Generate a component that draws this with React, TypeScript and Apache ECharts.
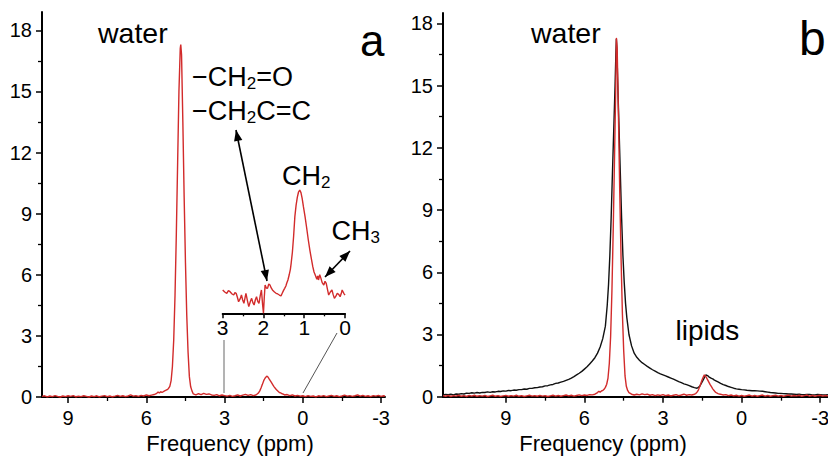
import React, { useEffect, useRef } from 'react';
import * as echarts from 'echarts';

const FONT = '"Liberation Sans", Arial, Helvetica, sans-serif';
const RED = '#d22b2b';
const BLACK = '#111111';

// tick values
const xMajorTicks = [9, 6, 3, 0, -3];
const xMinorTicks = [7.5, 4.5, 1.5, -1.5];
const yMajorTicks = [0, 3, 6, 9, 12, 15, 18];
const yMinorTicks = [1.5, 4.5, 7.5, 10.5, 13.5, 16.5];
const insetMajorTicks = [3, 2, 1, 0];
const insetMinorTicks = [2.5, 1.5, 0.5];

// panel a: red spectrum [ppm, intensity]
const spectrumA: [number, number][] = [
  [10.0, 0.03], [9.9, 0.06], [9.8, 0.01], [9.7, 0.05], [9.6, 0.02], [9.5, 0.07], [9.4, 0.03], [9.3, 0.0],
  [9.2, 0.05], [9.1, 0.02], [9.0, 0.06], [8.9, 0.03], [8.8, 0.07], [8.7, 0.01], [8.6, 0.04], [8.5, 0.02],
  [8.4, 0.06], [8.3, 0.03], [8.2, 0.0], [8.1, 0.05], [8.0, 0.02], [7.9, 0.06], [7.8, 0.01], [7.7, 0.04],
  [7.6, 0.07], [7.5, 0.02], [7.4, 0.05], [7.3, 0.01], [7.2, 0.04], [7.1, 0.08], [7.0, 0.03], [6.9, 0.06],
  [6.8, 0.02], [6.7, 0.05], [6.6, 0.1], [6.5, 0.04], [6.4, 0.07], [6.3, 0.03], [6.2, 0.08], [6.1, 0.05],
  [6.0, 0.1], [5.9, 0.06], [5.8, 0.09], [5.7, 0.12], [5.6, 0.18], [5.55, 0.24], [5.5, 0.2], [5.45, 0.26],
  [5.4, 0.22], [5.3, 0.3], [5.2, 0.36], [5.15, 0.42], [5.1, 0.52], [5.05, 0.8], [5.0, 1.5], [4.95, 2.8],
  [4.9, 5.0], [4.85, 8.0], [4.8, 11.5], [4.75, 15.0], [4.7, 17.1], [4.68, 17.3], [4.65, 16.8], [4.6, 13.5],
  [4.55, 9.8], [4.5, 6.6], [4.45, 4.0], [4.4, 2.2], [4.35, 1.0], [4.3, 0.5], [4.25, 0.3], [4.2, 0.15],
  [4.1, 0.1], [4.0, 0.16], [3.9, 0.12], [3.8, 0.18], [3.7, 0.13], [3.6, 0.15], [3.5, 0.1], [3.4, 0.08],
  [3.3, 0.12], [3.2, 0.06], [3.1, 0.1], [3.0, 0.07], [2.9, 0.04], [2.8, 0.08], [2.7, 0.03], [2.6, 0.06],
  [2.5, 0.1], [2.4, 0.05], [2.3, 0.09], [2.2, 0.13], [2.1, 0.08], [2.0, 0.12], [1.9, 0.07], [1.8, 0.1],
  [1.75, 0.15], [1.7, 0.2], [1.65, 0.3], [1.6, 0.45], [1.55, 0.62], [1.5, 0.8], [1.45, 0.92], [1.4, 1.0],
  [1.37, 1.02], [1.33, 0.97], [1.3, 0.9], [1.25, 0.8], [1.2, 0.7], [1.15, 0.6], [1.1, 0.5], [1.05, 0.42],
  [1.0, 0.34], [0.95, 0.28], [0.9, 0.22], [0.85, 0.2], [0.8, 0.16], [0.75, 0.14], [0.7, 0.1], [0.6, 0.12],
  [0.5, 0.07], [0.4, 0.1], [0.3, 0.05], [0.2, 0.08], [0.1, 0.04], [0.0, 0.06], [-0.1, 0.02], [-0.2, 0.07],
  [-0.3, 0.03], [-0.4, 0.05], [-0.5, 0.01], [-0.6, 0.06], [-0.7, 0.03], [-0.8, 0.07], [-0.9, 0.02], [-1.0, 0.05],
  [-1.1, 0.08], [-1.2, 0.03], [-1.3, 0.06], [-1.4, 0.02], [-1.5, 0.05], [-1.6, 0.09], [-1.7, 0.04], [-1.8, 0.07],
  [-1.9, 0.03], [-2.0, 0.06], [-2.1, 0.1], [-2.2, 0.04], [-2.3, 0.08], [-2.4, 0.03], [-2.5, 0.06], [-2.6, 0.02],
  [-2.7, 0.07], [-2.8, 0.04], [-2.9, 0.08], [-3.0, 0.03], [-3.1, 0.06], [-3.15, 0.04],
];

// panel b: black (broad) spectrum
const spectrumBBlack: [number, number][] = [
  [11.4, 0.08], [11.3, 0.11], [11.2, 0.1], [11.1, 0.12], [11.0, 0.09], [10.9, 0.13], [10.8, 0.12], [10.7, 0.15],
  [10.6, 0.13], [10.5, 0.17], [10.4, 0.16], [10.3, 0.19], [10.2, 0.17], [10.1, 0.2], [10.0, 0.18], [9.9, 0.21],
  [9.8, 0.2], [9.7, 0.23], [9.6, 0.21], [9.5, 0.24], [9.4, 0.23], [9.3, 0.26], [9.2, 0.25], [9.1, 0.28],
  [9.0, 0.27], [8.9, 0.3], [8.8, 0.29], [8.7, 0.32], [8.6, 0.31], [8.5, 0.34], [8.4, 0.34], [8.3, 0.37],
  [8.2, 0.36], [8.1, 0.4], [8.0, 0.4], [7.9, 0.43], [7.8, 0.44], [7.7, 0.47], [7.6, 0.48], [7.5, 0.52],
  [7.4, 0.53], [7.3, 0.57], [7.2, 0.59], [7.1, 0.64], [7.0, 0.66], [6.9, 0.7], [6.8, 0.74], [6.7, 0.79],
  [6.6, 0.84], [6.5, 0.9], [6.4, 0.97], [6.3, 1.05], [6.2, 1.13], [6.1, 1.22], [6.0, 1.33], [5.9, 1.44],
  [5.8, 1.58], [5.7, 1.72], [5.6, 1.88], [5.5, 2.1], [5.4, 2.4], [5.3, 2.8], [5.2, 3.4], [5.13, 4.4],
  [5.08, 5.4], [5.03, 6.8], [4.98, 8.6], [4.93, 10.8], [4.88, 12.9], [4.83, 15.0], [4.8, 16.5], [4.78, 17.25],
  [4.76, 16.7], [4.73, 15.2], [4.68, 13.0], [4.63, 10.8], [4.58, 8.6], [4.53, 6.8], [4.48, 5.5], [4.43, 4.5],
  [4.38, 3.8], [4.3, 3.0], [4.2, 2.45], [4.1, 2.1], [4.0, 1.9], [3.9, 1.76], [3.8, 1.64], [3.7, 1.55],
  [3.6, 1.46], [3.5, 1.38], [3.4, 1.3], [3.3, 1.23], [3.2, 1.16], [3.1, 1.1], [3.0, 1.05], [2.9, 1.0],
  [2.8, 0.95], [2.7, 0.9], [2.6, 0.85], [2.5, 0.79], [2.4, 0.73], [2.3, 0.68], [2.2, 0.62], [2.1, 0.58],
  [2.0, 0.53], [1.9, 0.48], [1.8, 0.44], [1.7, 0.41], [1.6, 0.5], [1.5, 0.72], [1.42, 0.92], [1.36, 1.05],
  [1.3, 1.02], [1.25, 0.96], [1.2, 0.92], [1.15, 0.88], [1.1, 0.86], [1.05, 0.81], [1.0, 0.78], [0.9, 0.71],
  [0.8, 0.64], [0.7, 0.58], [0.6, 0.54], [0.5, 0.49], [0.4, 0.45], [0.3, 0.41], [0.2, 0.38], [0.1, 0.36],
  [0.0, 0.34], [-0.1, 0.33], [-0.2, 0.31], [-0.3, 0.3], [-0.4, 0.29], [-0.5, 0.29], [-0.6, 0.28], [-0.7, 0.27],
  [-0.8, 0.26], [-0.9, 0.24], [-1.0, 0.22], [-1.1, 0.2], [-1.2, 0.19], [-1.3, 0.18], [-1.4, 0.16], [-1.5, 0.16],
  [-1.6, 0.15], [-1.7, 0.14], [-1.8, 0.13], [-1.9, 0.13], [-2.0, 0.12], [-2.1, 0.11], [-2.2, 0.12], [-2.3, 0.1],
  [-2.4, 0.1], [-2.5, 0.11], [-2.6, 0.11], [-2.7, 0.09], [-2.8, 0.09], [-2.9, 0.11], [-3.0, 0.1], [-3.1, 0.09],
  [-3.2, 0.09], [-3.3, 0.1],
];

// panel b: red (narrow) spectrum
const spectrumBRed: [number, number][] = [
  [11.4, 0.05], [11.3, 0.02], [11.2, 0.06], [11.1, 0.01], [11.0, 0.05], [10.9, 0.03], [10.8, 0.07], [10.7, 0.02],
  [10.6, 0.05], [10.5, 0.01], [10.4, 0.06], [10.3, 0.03], [10.2, 0.07], [10.1, 0.02], [10.0, 0.05], [9.9, 0.03],
  [9.8, 0.06], [9.7, 0.01], [9.6, 0.04], [9.5, 0.07], [9.4, 0.02], [9.3, 0.05], [9.2, 0.01], [9.1, 0.04],
  [9.0, 0.06], [8.9, 0.02], [8.8, 0.05], [8.7, 0.03], [8.6, 0.07], [8.5, 0.02], [8.4, 0.05], [8.3, 0.01],
  [8.2, 0.04], [8.1, 0.07], [8.0, 0.03], [7.9, 0.05], [7.8, 0.02], [7.7, 0.06], [7.6, 0.03], [7.5, 0.05],
  [7.4, 0.01], [7.3, 0.04], [7.2, 0.07], [7.1, 0.03], [7.0, 0.06], [6.9, 0.02], [6.8, 0.05], [6.7, 0.08],
  [6.6, 0.04], [6.5, 0.07], [6.4, 0.03], [6.3, 0.06], [6.2, 0.09], [6.1, 0.05], [6.0, 0.08], [5.9, 0.06],
  [5.8, 0.1], [5.7, 0.09], [5.6, 0.12], [5.5, 0.2], [5.45, 0.26], [5.4, 0.22], [5.35, 0.28], [5.3, 0.3],
  [5.25, 0.36], [5.2, 0.45], [5.15, 0.6], [5.1, 0.9], [5.05, 1.6], [5.0, 2.9], [4.95, 5.1], [4.9, 8.1],
  [4.85, 11.6], [4.8, 15.2], [4.78, 17.3], [4.75, 16.8], [4.7, 13.5], [4.65, 9.8], [4.6, 6.6], [4.55, 4.0],
  [4.5, 2.2], [4.45, 1.0], [4.4, 0.5], [4.35, 0.3], [4.3, 0.2], [4.2, 0.12], [4.1, 0.08], [4.0, 0.12],
  [3.9, 0.09], [3.8, 0.14], [3.7, 0.1], [3.6, 0.12], [3.5, 0.07], [3.4, 0.1], [3.3, 0.05], [3.2, 0.09],
  [3.1, 0.06], [3.0, 0.1], [2.9, 0.05], [2.8, 0.08], [2.7, 0.04], [2.6, 0.07], [2.5, 0.1], [2.4, 0.05],
  [2.3, 0.08], [2.2, 0.12], [2.1, 0.07], [2.0, 0.1], [1.9, 0.08], [1.8, 0.12], [1.75, 0.15], [1.7, 0.22],
  [1.65, 0.32], [1.6, 0.48], [1.55, 0.66], [1.5, 0.84], [1.45, 0.98], [1.42, 1.05], [1.38, 1.0], [1.34, 0.92],
  [1.3, 0.82], [1.25, 0.7], [1.2, 0.58], [1.15, 0.48], [1.1, 0.38], [1.05, 0.3], [1.0, 0.22], [0.95, 0.18],
  [0.9, 0.15], [0.85, 0.13], [0.8, 0.12], [0.75, 0.1], [0.7, 0.08], [0.6, 0.1], [0.5, 0.05], [0.4, 0.08],
  [0.3, 0.04], [0.2, 0.07], [0.1, 0.03], [0.0, 0.06], [-0.1, 0.02], [-0.2, 0.05], [-0.3, 0.08], [-0.4, 0.03],
  [-0.5, 0.06], [-0.6, 0.02], [-0.7, 0.05], [-0.8, 0.08], [-0.9, 0.03], [-1.0, 0.06], [-1.1, 0.02], [-1.2, 0.05],
  [-1.3, 0.07], [-1.4, 0.03], [-1.5, 0.06], [-1.6, 0.02], [-1.7, 0.05], [-1.8, 0.08], [-1.9, 0.03], [-2.0, 0.06],
  [-2.1, 0.04], [-2.2, 0.07], [-2.3, 0.02], [-2.4, 0.05], [-2.5, 0.08], [-2.6, 0.03], [-2.7, 0.06], [-2.8, 0.02],
  [-2.9, 0.05], [-3.0, 0.07], [-3.1, 0.03], [-3.2, 0.06], [-3.3, 0.04],
];

// panel a inset: lipid region, 3 to 0 ppm (arbitrary units)
const insetLipids: [number, number][] = [
  [3.0, 1.75], [2.95, 1.6], [2.9, 1.5], [2.86, 1.7], [2.82, 1.62], [2.77, 1.45], [2.73, 1.37], [2.7, 1.55],
  [2.67, 1.5], [2.64, 1.2], [2.61, 0.87], [2.57, 1.1], [2.54, 1.37], [2.51, 1.0], [2.48, 0.75], [2.45, 1.2],
  [2.43, 1.5], [2.39, 0.9], [2.36, 0.5], [2.32, 0.9], [2.29, 1.12], [2.26, 0.8], [2.23, 0.62], [2.2, 1.0],
  [2.17, 1.25], [2.14, 0.9], [2.11, 0.75], [2.08, 1.3], [2.05, 1.75], [2.02, 0.6], [2.0, 0.0], [1.98, 1.2],
  [1.96, 2.12], [1.93, 1.9], [1.9, 1.87], [1.87, 2.2], [1.84, 2.12], [1.81, 1.9], [1.78, 1.75], [1.73, 1.6],
  [1.69, 1.5], [1.65, 1.45], [1.61, 1.37], [1.57, 1.3], [1.54, 1.5], [1.51, 1.7], [1.48, 1.87], [1.45, 2.05],
  [1.43, 2.25], [1.4, 2.5], [1.37, 2.87], [1.34, 3.3], [1.32, 3.77], [1.29, 4.6], [1.26, 5.8], [1.23, 7.25],
  [1.2, 8.1], [1.17, 8.7], [1.14, 9.1], [1.11, 9.25], [1.08, 9.05], [1.05, 8.6], [1.02, 8.0], [0.98, 7.25],
  [0.94, 6.4], [0.9, 5.5], [0.86, 4.7], [0.82, 4.0], [0.79, 3.5], [0.76, 3.1], [0.73, 2.87], [0.71, 2.7],
  [0.69, 2.55], [0.67, 2.8], [0.65, 2.5], [0.62, 2.9], [0.59, 2.62], [0.56, 2.3], [0.52, 2.12], [0.49, 2.4],
  [0.46, 2.25], [0.43, 1.8], [0.4, 1.37], [0.36, 1.6], [0.32, 1.75], [0.29, 1.4], [0.26, 1.12], [0.22, 1.3],
  [0.19, 1.5], [0.15, 1.4], [0.12, 1.25], [0.09, 1.5], [0.07, 1.75], [0.03, 1.5], [0.0, 1.37],
];

const axisName = 'Frequency (ppm)';

function majorX(gridIndex: number, min: number, max: number, ticks: number[], name: string | null, namePadding: number[], tickLen: number, fontSize: number, margin: number) {
  return {
    type: 'value', gridIndex, min, max, inverse: true, position: 'bottom',
    axisLine: { show: true, onZero: false, lineStyle: { color: '#000', width: 2 } },
    axisTick: { show: true, customValues: ticks, length: tickLen, lineStyle: { color: '#000', width: 1.5 } },
    axisLabel: { show: true, customValues: ticks, fontSize, margin, color: '#000', fontFamily: FONT },
    splitLine: { show: false },
    minorTick: { show: false },
    ...(name ? {
      name, nameLocation: 'middle', nameGap: 35,
      nameTextStyle: { fontSize: 22, color: '#000', fontFamily: FONT, padding: namePadding },
    } : {}),
  };
}

function minorX(gridIndex: number, min: number, max: number, ticks: number[], tickLen: number) {
  return {
    type: 'value', gridIndex, min, max, inverse: true, position: 'bottom',
    axisLine: { show: false, onZero: false },
    axisTick: { show: true, customValues: ticks, length: tickLen, lineStyle: { color: '#000', width: 1.3 } },
    axisLabel: { show: false },
    splitLine: { show: false },
  };
}

function majorY(gridIndex: number, max: number) {
  return {
    type: 'value', gridIndex, min: 0, max, position: 'left',
    axisLine: { show: true, onZero: false, lineStyle: { color: '#000', width: 2 } },
    axisTick: { show: true, customValues: yMajorTicks, length: 6, lineStyle: { color: '#000', width: 1.5 } },
    axisLabel: { show: true, customValues: yMajorTicks, fontSize: 20, margin: 10, color: '#000', fontFamily: FONT },
    splitLine: { show: false },
  };
}

function minorY(gridIndex: number, max: number) {
  return {
    type: 'value', gridIndex, min: 0, max, position: 'left',
    axisLine: { show: false, onZero: false },
    axisTick: { show: true, customValues: yMinorTicks, length: 4, lineStyle: { color: '#000', width: 1.3 } },
    axisLabel: { show: false },
    splitLine: { show: false },
  };
}

function arrowHead(tip: number[], from: number[], len = 11, half = 4.2) {
  const dx = tip[0] - from[0];
  const dy = tip[1] - from[1];
  const d = Math.hypot(dx, dy);
  const ux = dx / d;
  const uy = dy / d;
  const bx = tip[0] - ux * len;
  const by = tip[1] - uy * len;
  return [[tip[0], tip[1]], [bx - uy * half, by + ux * half], [bx + uy * half, by - ux * half]];
}

function doubleArrow(a: number[], b: number[]) {
  return [
    { type: 'line', shape: { x1: a[0], y1: a[1], x2: b[0], y2: b[1] }, style: { stroke: '#000', lineWidth: 1.6 } },
    { type: 'polygon', shape: { points: arrowHead(a, b) }, style: { fill: '#000' } },
    { type: 'polygon', shape: { points: arrowHead(b, a) }, style: { fill: '#000' } },
  ];
}

function label(text: string, x: number, y: number, fontSize: number, rich?: any) {
  return {
    type: 'text', x, y, silent: true,
    style: {
      text, fill: '#000', fontSize, fontFamily: FONT, align: 'left', verticalAlign: 'middle',
      ...(rich ? { rich } : {}),
    },
  };
}

const chemRich = {
  n: { fontSize: 27, lineHeight: 30, fontFamily: FONT, color: '#000', verticalAlign: 'middle' },
  s: { fontSize: 17, lineHeight: 15, fontFamily: FONT, color: '#000', verticalAlign: 'bottom' },
};

export default function App() {
  const ref = useRef<HTMLDivElement>(null);
  useEffect(() => {
    if (!ref.current) return;
    const chart = echarts.init(ref.current, null, { renderer: 'svg' });
    const option: any = {
      animation: false,
      backgroundColor: '#fff',
      grid: [
        { left: 42, top: 12, width: 343, height: 385, containLabel: false, outerBoundsMode: 'none' },
        { left: 443, top: 13, width: 385, height: 383.7, containLabel: false, outerBoundsMode: 'none' },
        { left: 222.7, top: 180, width: 122.3, height: 133.3, containLabel: false, outerBoundsMode: 'none' },
      ],
      xAxis: [
        majorX(0, -3.15, 10, xMajorTicks, axisName, [0, 0, 0, 33], 6, 20, 11),
        minorX(0, -3.15, 10, xMinorTicks, 4),
        majorX(1, -3.3, 11.4, xMajorTicks, axisName, [0, 65, 0, 0], 6, 20, 11),
        minorX(1, -3.3, 11.4, xMinorTicks, 4),
        majorX(2, 0, 3, insetMajorTicks, null, [0, 0, 0, 0], 5, 21, 4),
        minorX(2, 0, 3, insetMinorTicks, 3),
      ],
      yAxis: [
        majorY(0, 18.9),
        minorY(0, 18.9),
        majorY(1, 18.5),
        minorY(1, 18.5),
        { type: 'value', gridIndex: 2, min: 0, max: 10, show: false, position: 'left' },
      ],
      series: [
        {
          type: 'line', name: 'a', xAxisIndex: 0, yAxisIndex: 0, data: spectrumA,
          showSymbol: false, symbol: 'none', clip: false, lineStyle: { color: RED, width: 1.4 },
        },
        {
          type: 'line', name: 'b broad', xAxisIndex: 2, yAxisIndex: 2, data: spectrumBBlack,
          showSymbol: false, symbol: 'none', clip: false, lineStyle: { color: BLACK, width: 1.4 },
        },
        {
          type: 'line', name: 'b narrow', xAxisIndex: 2, yAxisIndex: 2, data: spectrumBRed,
          showSymbol: false, symbol: 'none', clip: false, lineStyle: { color: RED, width: 1.4 },
        },
        {
          type: 'line', name: 'inset', xAxisIndex: 4, yAxisIndex: 4, data: insetLipids,
          showSymbol: false, symbol: 'none', clip: false, lineStyle: { color: RED, width: 1.4 },
        },
      ],
      graphic: [
        label('water', 98, 33, 28.5),
        label('water', 531, 33, 28.5),
        label('lipids', 675.5, 330.3, 28),
        label('a', 360, 40, 44),
        label('b', 799, 38, 48),
        label('{n|−CH}{s|2}{n|=O}', 192, 76.6, 27, chemRich),
        label('{n|−CH}{s|2}{n|C=C}', 192, 111, 27, chemRich),
        label('{n|CH}{s|2}', 282, 175.6, 27, chemRich),
        label('{n|CH}{s|3}', 331.5, 231.3, 27, chemRich),
        ...doubleArrow([236, 130], [267, 281]),
        ...doubleArrow([325, 277], [350, 251]),
        { type: 'line', shape: { x1: 224, y1: 340, x2: 224, y2: 393 }, style: { stroke: '#9a9a9a', lineWidth: 1.5 } },
        { type: 'line', shape: { x1: 303, y1: 393, x2: 337, y2: 333 }, style: { stroke: '#555', lineWidth: 1 } },
      ],
    };
    chart.setOption(option);
    return () => chart.dispose();
  }, []);
  return (
    <div
      ref={ref}
      style={{ position: 'fixed', left: 0, top: 0, width: 828, height: 459, background: '#fff' }}
    />
  );
}
